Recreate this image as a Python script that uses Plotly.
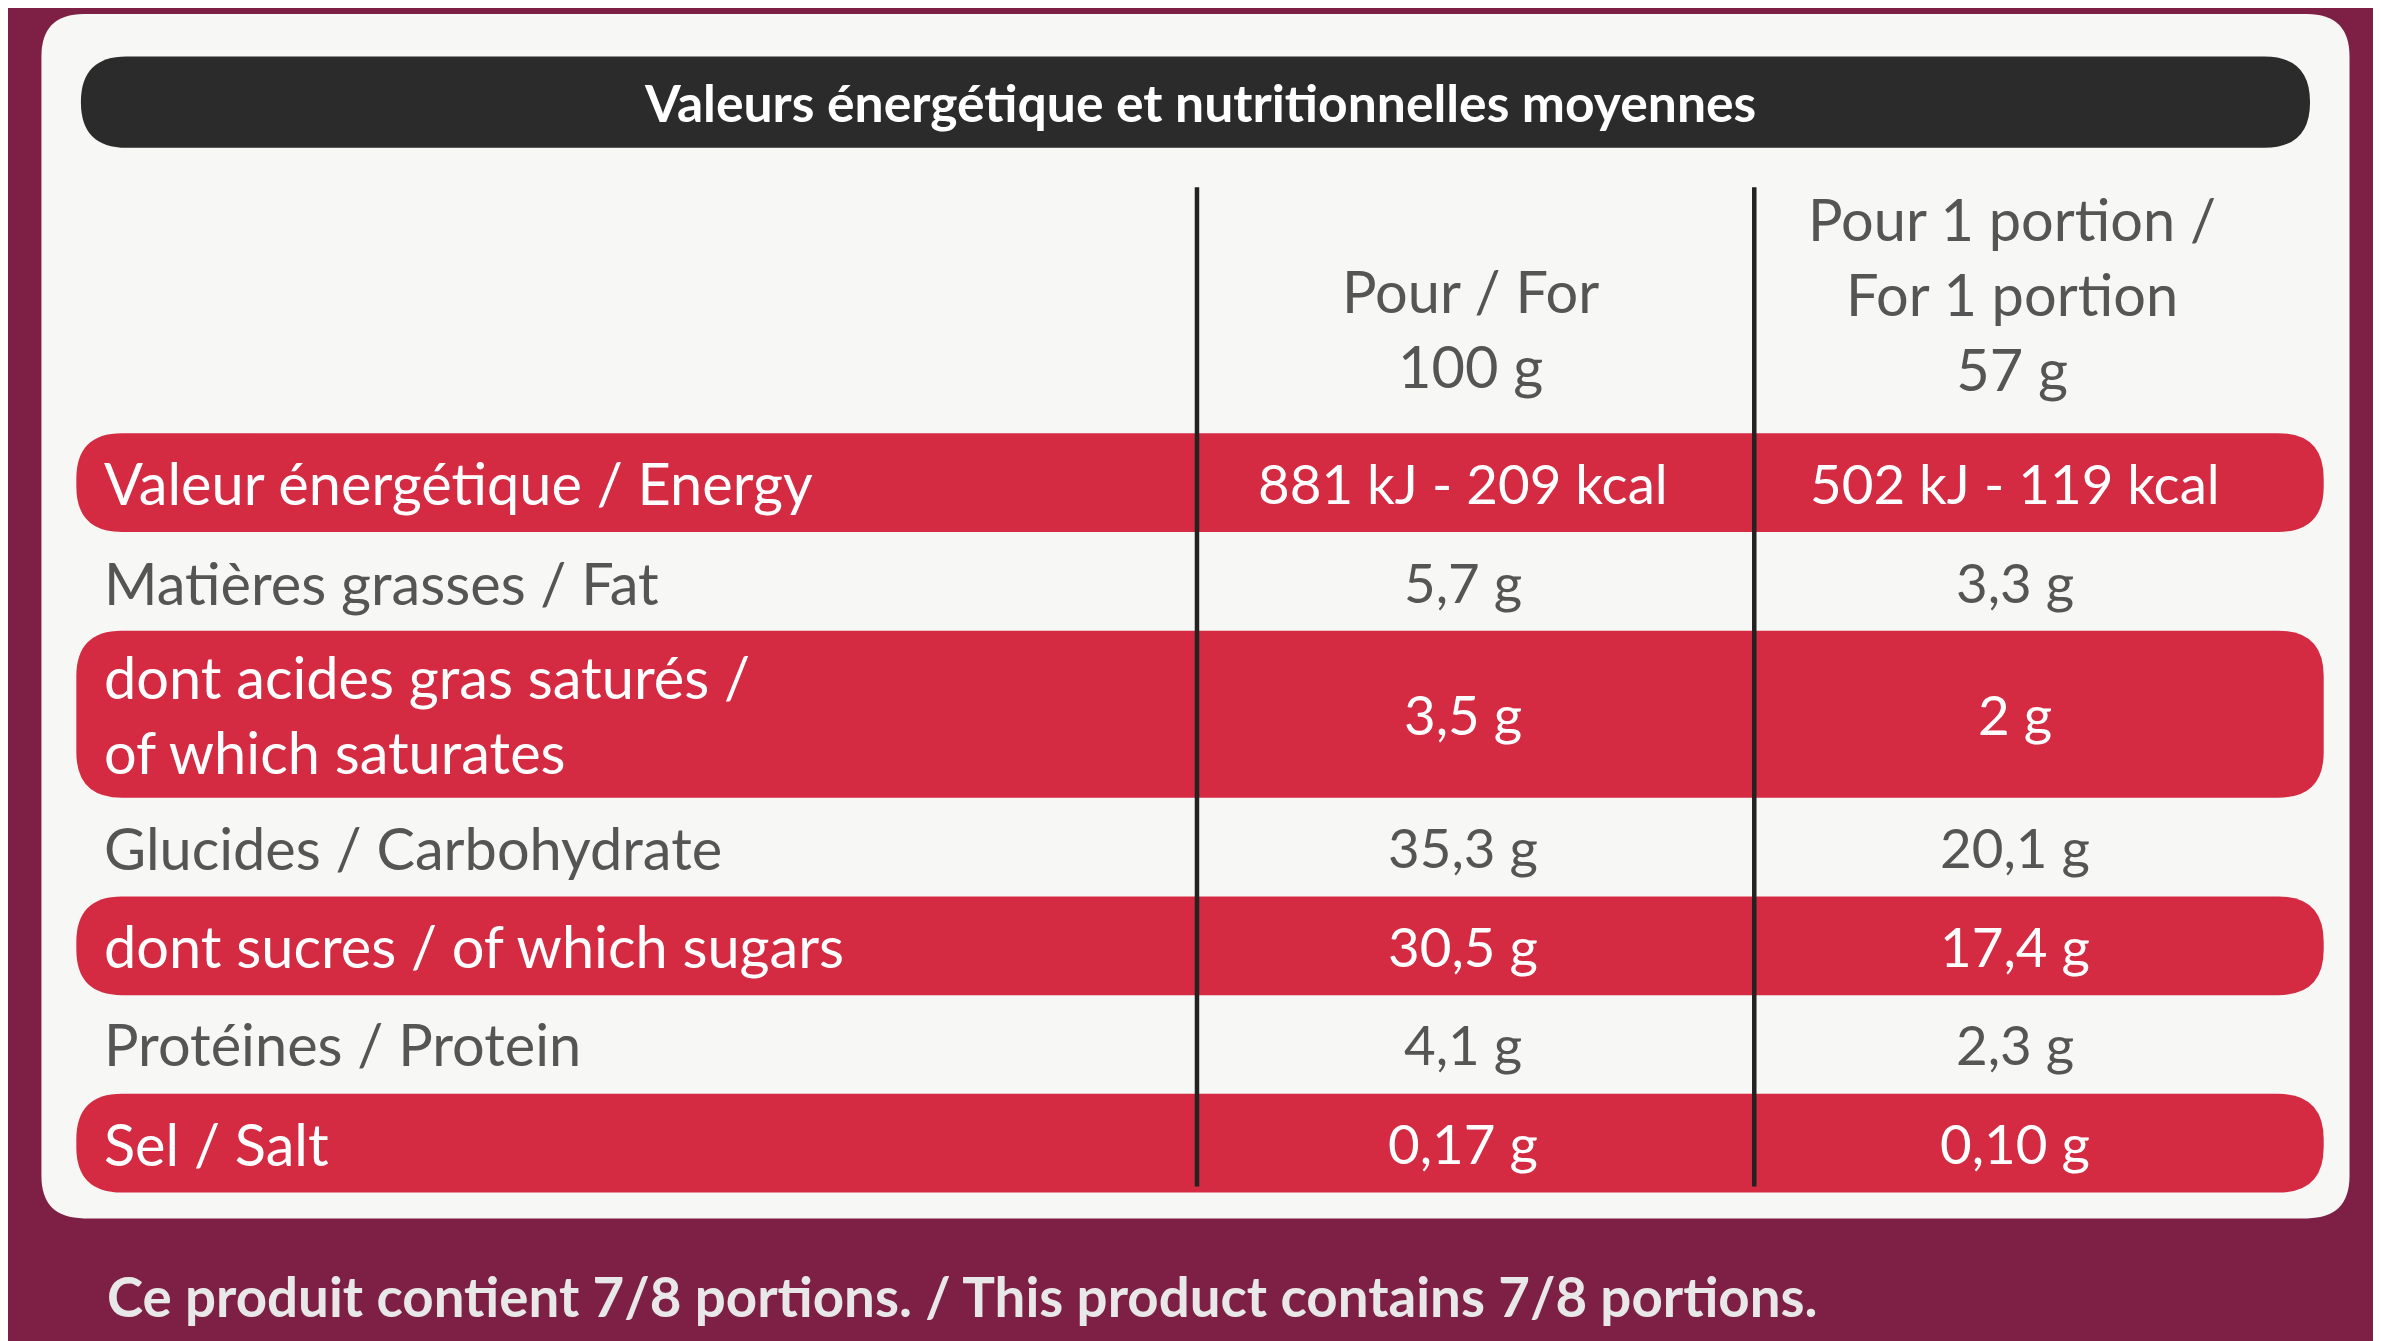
import plotly.graph_objects as go

W, H = 1568, 883  # reference drawn in these units, scaled to the page

title = "Valeurs énergétique et nutritionnelles moyennes"
col_heads = ["Pour / For<br>100 g", "Pour 1 portion /<br>For 1 portion<br>57 g"]
labels = ["Valeur énergétique / Energy", "Matières grasses / Fat",
          "dont acides gras saturés /<br>of which saturates", "Glucides / Carbohydrate",
          "dont sucres / of which sugars", "Protéines / Protein", "Sel / Salt"]
per_100g = ["881 kJ - 209 kcal", "5,7 g", "3,5 g", "35,3 g", "30,5 g", "4,1 g", "0,17 g"]
per_portion = ["502 kJ - 119 kcal", "3,3 g", "2 g", "20,1 g", "17,4 g", "2,3 g", "0,10 g"]
highlight = [True, False, True, False, True, False, True]
footer = "Ce produit contient 7/8 portions. / This product contains 7/8 portions."

row_top = [280, 348, 410, 522, 585, 652, 715]
row_bot = [345, 408, 520, 583, 650, 712, 780]

RED = "#d42a42"
GREY = "#555555"
FONT = "Liberation Sans Narrow, Lato, sans-serif"
S = 2381 / W


def px(x):
    return x / W


def py(y):
    return 1 - y / H


def rrect(x0, y0, x1, y1, r):
    rx, ry = r / W, r / H
    a, b, c, d = px(x0), py(y0), px(x1), py(y1)
    return (f"M {a+rx},{b} L {c-rx},{b} Q {c},{b} {c},{b-ry} L {c},{d+ry} "
            f"Q {c},{d} {c-rx},{d} L {a+rx},{d} Q {a},{d} {a},{d+ry} "
            f"L {a},{b-ry} Q {a},{b} {a+rx},{b} Z")


P = dict(xref="paper", yref="paper")
shapes = [
    dict(type="path", path=rrect(22, 4, 1542, 797, 28), fillcolor="#f7f7f5", line_width=0, **P),
    dict(type="path", path=rrect(48, 32, 1516, 92, 30), fillcolor="#2b2b2b", line_width=0, **P),
]
for t, b, h in zip(row_top, row_bot, highlight):
    if h:
        shapes.append(dict(type="path", path=rrect(45, t, 1525, b, 30), fillcolor=RED,
                           line_width=0, **P))
for x in (783, 1150):
    shapes.append(dict(type="line", x0=px(x), x1=px(x), y0=py(118), y1=py(776),
                       line=dict(color="#222222", width=4.5), **P))

ann = []


def text(x, y, s, size, color, anchor="center", bold=False):
    if bold:
        s = f"<b>{s}</b>"
    ann.append(dict(x=px(x), y=py(y), text=s, showarrow=False, xanchor=anchor, yanchor="middle",
                    align=anchor if anchor != "center" else "center",
                    font=dict(family=FONT, size=size * S, color=color), **P))


text(785, 62, title, 34, "white", bold=True)
text(963, 211, col_heads[0], 38, GREY)
text(1320, 188, col_heads[1], 38, GREY)
for i, lab in enumerate(labels):
    yc = (row_top[i] + row_bot[i]) / 2
    col = "white" if highlight[i] else GREY
    text(62, yc, lab, 38, col, anchor="left")
    text(958, yc, per_100g[i], 36, col)
    text(1322, yc, per_portion[i], 36, col)
text(64, 848, footer, 36, "#e8e8e8", anchor="left", bold=True)

fig = go.Figure()
fig.update_layout(width=2381, height=1341, margin=dict(l=0, r=0, t=0, b=0),
                  paper_bgcolor="#7e1f45", plot_bgcolor="rgba(0,0,0,0)",
                  xaxis=dict(visible=False, range=[0, 1]), yaxis=dict(visible=False, range=[0, 1]),
                  shapes=shapes, annotations=ann)
fig.write_html("out.html")
